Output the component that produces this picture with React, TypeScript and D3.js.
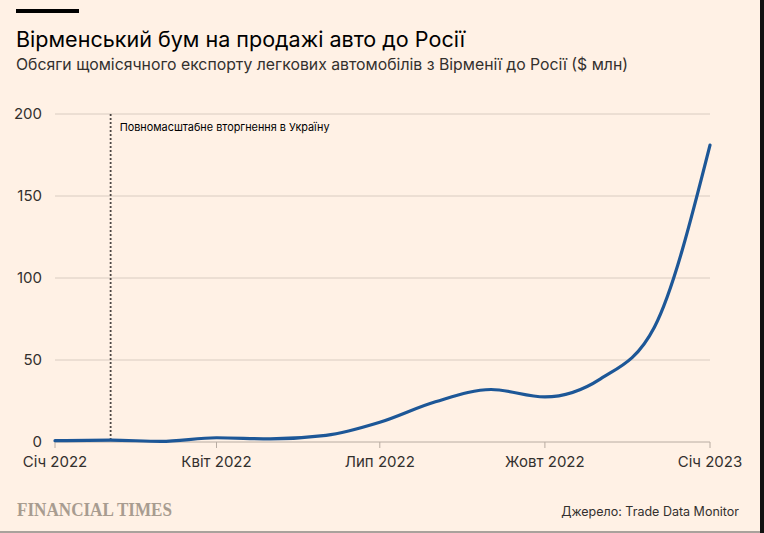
import React from "react";
import * as d3 from "d3";

const months: string[] = [
  "2022-01-01", "2022-02-01", "2022-03-01", "2022-04-01", "2022-05-01", "2022-06-01",
  "2022-07-01", "2022-08-01", "2022-09-01", "2022-10-01", "2022-11-01", "2022-12-01", "2023-01-01",
];
const exportsUsdM: number[] = [0.8, 1.1, 0.4, 2.6, 1.9, 4.0, 12, 24.5, 32, 27.5, 38.5, 70, 181];

const yTicks: number[] = [0, 50, 100, 150, 200];
const xTickDates: string[] = ["2022-01-01", "2022-04-01", "2022-07-01", "2022-10-01", "2023-01-01"];
const xTickLabels: string[] = ["Січ 2022", "Квіт 2022", "Лип 2022", "Жовт 2022", "Січ 2023"];

const eventDate = "2022-02-01";
const eventLabel = "Повномасштабне вторгнення в Україну";

const title = "Вірменський бум на продажі авто до Росії";
const subtitle = "Обсяги щомісячного експорту легкових автомобілів з Вірменії до Росії ($ млн)";
const source = "Джерело: Trade Data Monitor";
const brand = "FINANCIAL TIMES";

const W = 764;
const H = 533;
const FONT = "Inter, 'Noto Sans', sans-serif";

export default function App() {
  const parse = d3.timeParse("%Y-%m-%d");
  const data = months.map((m, i) => ({ date: parse(m) as Date, value: exportsUsdM[i] }));

  const x = d3
    .scaleTime()
    .domain([parse("2022-01-01") as Date, parse("2023-01-01") as Date])
    .range([55, 710]);
  const y = d3.scaleLinear().domain([0, 200]).range([442, 114]);

  const line = d3
    .line<{ date: Date; value: number }>()
    .x((d) => x(d.date))
    .y((d) => y(d.value))
    .curve(d3.curveMonotoneX);

  const ex = x(parse(eventDate) as Date);

  return (
    <svg
      width={W}
      height={H}
      style={{ position: "absolute", left: 0, top: 0, display: "block" }}
      fontFamily={FONT}
    >
      <rect x={0} y={0} width={W} height={H} fill="#FFF1E5" />
      <rect x={16} y={9} width={63} height={4} fill="#000" />
      <text x={16} y={47} fontSize={21.5} fill="#000" textLength={449} lengthAdjust="spacingAndGlyphs">
        {title}
      </text>
      <text x={16} y={70} fontSize={16} fill="#33302e" textLength={612} lengthAdjust="spacingAndGlyphs">
        {subtitle}
      </text>

      {yTicks.map((t) => (
        <g key={t}>
          {t !== 0 && (
            <line x1={55} x2={710} y1={y(t)} y2={y(t)} stroke="#d9ccc1" strokeWidth={1} />
          )}
          <text x={42} y={y(t)} dy="0.35em" textAnchor="end" fontSize={15} fill="#33302e">
            {t}
          </text>
        </g>
      ))}

      <line x1={55} x2={710} y1={y(0)} y2={y(0)} stroke="#b8aca2" strokeWidth={1} />
      {xTickDates.map((d, i) => {
        const px = x(parse(d) as Date);
        return (
          <g key={d}>
            <line x1={px} x2={px} y1={y(0)} y2={y(0) + 6} stroke="#b8aca2" strokeWidth={1} />
            <text x={px} y={467} textAnchor="middle" fontSize={15} fill="#33302e">
              {xTickLabels[i]}
            </text>
          </g>
        );
      })}

      <line
        x1={ex}
        x2={ex}
        y1={y(200)}
        y2={y(0)}
        stroke="#4d4845"
        strokeWidth={1.8}
        strokeDasharray="2,2"
      />
      <text x={ex + 9} y={131} fontSize={11} fill="#000" textLength={210} lengthAdjust="spacingAndGlyphs">
        {eventLabel}
      </text>

      <path d={line(data) || ""} fill="none" stroke="#1d5797" strokeWidth={3.2} strokeLinejoin="round" strokeLinecap="round" />

      <text
        x={17}
        y={516}
        fontSize={18}
        fontWeight={600}
        fill="#a89c90"
        fontFamily="'Liberation Serif', 'DejaVu Serif', serif"
        textLength={155}
        lengthAdjust="spacingAndGlyphs"
      >
        {brand}
      </text>
      <text x={739} y={516} textAnchor="end" fontSize={12.5} fill="#33302e">
        {source}
      </text>

      <rect x={0} y={531} width={W} height={2} fill="#a9a29c" />
      <rect x={760} y={0} width={4} height={H} fill="#111" />
    </svg>
  );
}
